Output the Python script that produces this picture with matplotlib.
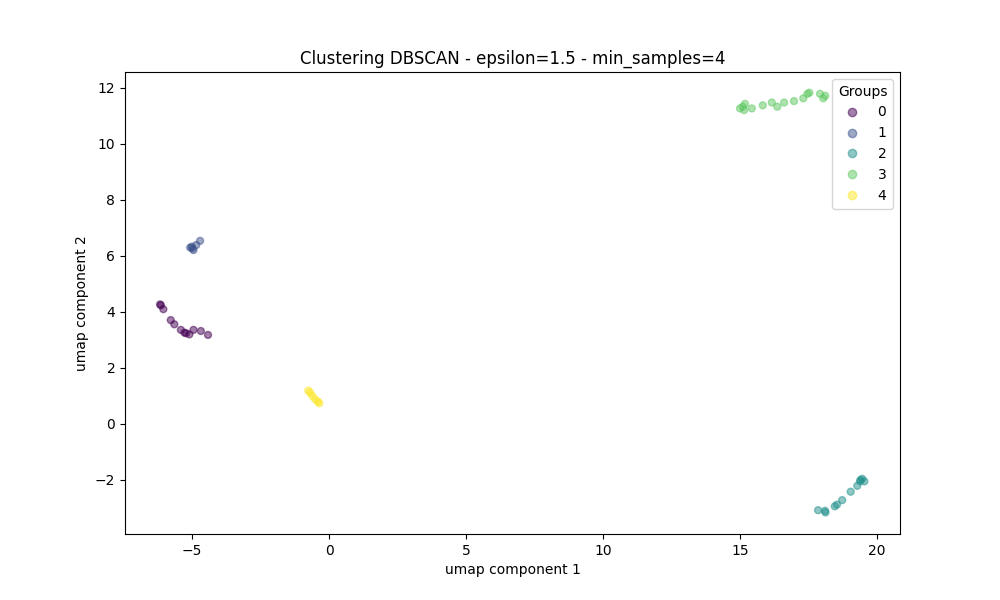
import numpy as np
import matplotlib.pyplot as plt

# Coordenadas UMAP, por grupo
x0 = [-6.17, -6.14, -6.05, -5.78, -5.65, -5.41, -5.28, -5.22, -5.10, -4.95, -4.68, -4.42]
y0 = [4.27, 4.24, 4.10, 3.71, 3.56, 3.36, 3.26, 3.24, 3.20, 3.36, 3.32, 3.18]

x1 = [-5.07, -5.01, -4.99, -4.95, -4.85, -4.71]
y1 = [6.30, 6.33, 6.27, 6.21, 6.39, 6.54]

x2 = [17.85, 18.10, 18.12, 18.46, 18.54, 18.73, 19.04, 19.28, 19.40, 19.46, 19.54, 19.38]
y2 = [-3.08, -3.10, -3.16, -2.94, -2.88, -2.72, -2.42, -2.21, -2.00, -1.96, -2.05, -2.05]

x3 = [15.00, 15.10, 15.18, 15.15, 15.43, 15.83, 16.16, 16.36, 16.61, 16.97,
      17.31, 17.46, 17.53, 17.92, 18.04, 18.11]
y3 = [11.27, 11.33, 11.43, 11.21, 11.27, 11.38, 11.48, 11.33, 11.48, 11.53,
      11.63, 11.79, 11.83, 11.79, 11.63, 11.72]

x4 = [-0.76, -0.69, -0.61, -0.51, -0.41, -0.36]
y4 = [1.19, 1.12, 1.00, 0.88, 0.80, 0.74]

grupos_x = [x0, x1, x2, x3, x4]
grupos_y = [y0, y1, y2, y3, y4]

# Juntar todo con su etiqueta
X = np.concatenate(grupos_x)
Y = np.concatenate(grupos_y)
etiquetas = np.concatenate([np.full(len(gx), i) for i, gx in enumerate(grupos_x)])

fig, ax = plt.subplots(figsize=(10, 6), dpi=100)
sc = ax.scatter(X, Y, c=etiquetas, cmap="viridis", vmin=0, vmax=4, s=25, alpha=0.5)
ax.set_title("Clustering DBSCAN - epsilon=1.5 - min_samples=4")
ax.set_xlabel("umap component 1")
ax.set_ylabel("umap component 2")
ax.set_xlim(-7.45, 20.84)
ax.set_ylim(-3.93, 12.57)

handles, labels = sc.legend_elements()
ax.legend(handles, labels, title="Groups", loc="upper right")

plt.savefig("out.png")
